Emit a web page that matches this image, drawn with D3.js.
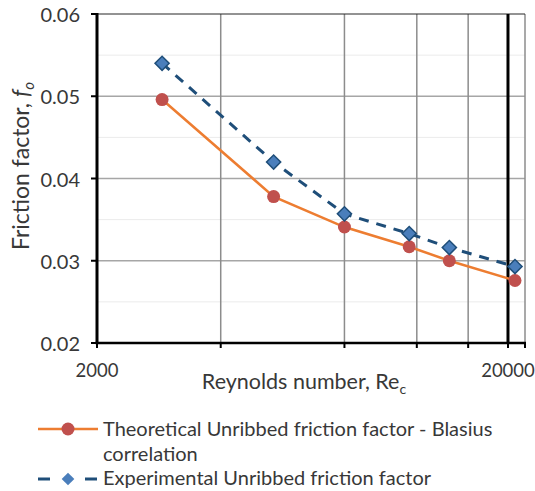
<!DOCTYPE html>
<html>
<head>
<meta charset="utf-8">
<script src="https://cdn.jsdelivr.net/npm/d3@7"></script>
<style>
  html, body { margin: 0; padding: 0; background: #fff; }
  svg { display: block; }
  text { font-family: Lato, "Open Sans", sans-serif; fill: #383838; }
</style>
</head>
<body>
<div id="chart"></div>
<script>
// Reynolds numbers of the test points
const reynolds = [2880, 5380, 8000, 11500, 14400, 20800];
// Blasius correlation (theoretical, unribbed)
const theoretical = [0.0496, 0.0378, 0.0341, 0.0317, 0.0300, 0.0276];
// Measured values (experimental, unribbed)
const experimental = [0.0540, 0.0420, 0.0357, 0.0333, 0.0316, 0.0293];

const yTicks = [0.02, 0.03, 0.04, 0.05, 0.06];
const yMinor = [0.025, 0.035, 0.045, 0.055];
const xGrid = [4000, 8000, 12000, 16000];
const xMarkTicks = [2000, 4000, 8000, 12000, 16000, 20000, 22000];
const xLabels = [2000, 20000];
const legendLabels = [
  ["Theoretical Unribbed friction factor - Blasius", "correlation"],
  ["Experimental Unribbed friction factor"]
];

const W = 535, H = 491;
const m = { left: 97, right: 10, top: 14, bottom: 148 };

const svg = d3.select("#chart").append("svg").attr("width", W).attr("height", H);

const x = d3.scaleLog().domain([2000, 22000]).range([m.left, W - m.right]);
const y = d3.scaleLinear().domain([0.02, 0.06]).range([H - m.bottom, m.top]);

const g = svg.append("g");

// minor horizontal gridlines
g.selectAll(".ymin").data(yMinor).join("line")
  .attr("x1", x(2000)).attr("x2", x(22000))
  .attr("y1", d => y(d)).attr("y2", d => y(d))
  .attr("stroke", "#ebebeb").attr("stroke-width", 1);

// major horizontal gridlines
g.selectAll(".ymaj").data([0.03, 0.04, 0.05]).join("line")
  .attr("x1", x(2000)).attr("x2", x(22000))
  .attr("y1", d => y(d)).attr("y2", d => y(d))
  .attr("stroke", "#a6a6a6").attr("stroke-width", 1.5);

// vertical gridlines
g.selectAll(".xg").data(xGrid).join("line")
  .attr("x1", d => x(d)).attr("x2", d => x(d))
  .attr("y1", y(0.06)).attr("y2", y(0.02))
  .attr("stroke", "#8c8c8c").attr("stroke-width", 1.5);

// right border
g.append("line")
  .attr("x1", x(22000)).attr("x2", x(22000))
  .attr("y1", y(0.06)).attr("y2", y(0.02))
  .attr("stroke", "#8c8c8c").attr("stroke-width", 1.5);

// top border
g.append("line")
  .attr("x1", x(2000)).attr("x2", x(22000))
  .attr("y1", y(0.06)).attr("y2", y(0.06))
  .attr("stroke", "#262626").attr("stroke-width", 1);

// heavy line at Re = 20000
g.append("line")
  .attr("x1", x(20000)).attr("x2", x(20000))
  .attr("y1", y(0.06)).attr("y2", y(0.02))
  .attr("stroke", "#000").attr("stroke-width", 3);

// x axis line + ticks
g.append("line")
  .attr("x1", x(2000) - 1.5).attr("x2", x(22000) + 1)
  .attr("y1", y(0.02)).attr("y2", y(0.02))
  .attr("stroke", "#000").attr("stroke-width", 2.5);
g.selectAll(".xt").data(xMarkTicks).join("line")
  .attr("x1", d => x(d)).attr("x2", d => x(d))
  .attr("y1", y(0.02)).attr("y2", y(0.02) + 5)
  .attr("stroke", "#000").attr("stroke-width", 2);

// y axis line + ticks
g.append("line")
  .attr("x1", x(2000)).attr("x2", x(2000))
  .attr("y1", y(0.06) - 1).attr("y2", y(0.02) + 1)
  .attr("stroke", "#000").attr("stroke-width", 3);
g.selectAll(".yt").data(yTicks).join("line")
  .attr("x1", x(2000) - 6).attr("x2", x(2000))
  .attr("y1", d => y(d)).attr("y2", d => y(d))
  .attr("stroke", "#000").attr("stroke-width", 2);

// tick labels
g.selectAll(".yl").data(yTicks).join("text")
  .attr("x", 80).attr("y", d => y(d))
  .attr("text-anchor", "end").attr("dominant-baseline", "central")
  .style("font-size", "20px")
  .text(d => d3.format(".2f")(d));
g.selectAll(".xl").data(xLabels).join("text")
  .attr("x", d => x(d)).attr("y", 377)
  .attr("text-anchor", "middle")
  .style("font-size", "18.5px")
  .text(d => d);

// axis titles
const xt = svg.append("text")
  .attr("x", 304).attr("y", 389)
  .attr("text-anchor", "middle").style("font-size", "21.5px");
xt.append("tspan").text("Reynolds number, Re");
xt.append("tspan").attr("dy", 5).style("font-size", "14px").text("c");

const yt = svg.append("text")
  .attr("transform", "translate(29,166) rotate(-90)")
  .attr("text-anchor", "middle").style("font-size", "23px");
yt.append("tspan").text("Friction factor, ");
yt.append("tspan").style("font-style", "italic").text("f");
yt.append("tspan").attr("dy", 5).style("font-size", "15px").style("font-style", "italic").text("o");

// series
const theoPts = reynolds.map((r, i) => [r, theoretical[i]]);
const expPts = reynolds.map((r, i) => [r, experimental[i]]);
const line = d3.line().x(d => x(d[0])).y(d => y(d[1]));

const orange = "#ed7d31", red = "#c0504d", navy = "#1f4e79", blue = "#4a7ebb";

svg.append("path").datum(expPts).attr("d", line)
  .attr("fill", "none").attr("stroke", navy).attr("stroke-width", 3)
  .attr("stroke-dasharray", "10,8");
svg.append("path").datum(theoPts).attr("d", line)
  .attr("fill", "none").attr("stroke", orange).attr("stroke-width", 2.5);

svg.selectAll(".c").data(theoPts).join("circle")
  .attr("cx", d => x(d[0])).attr("cy", d => y(d[1])).attr("r", 6.5)
  .attr("fill", red);

svg.selectAll(".d").data(expPts).join("path")
  .attr("d", d3.symbol().type(d3.symbolSquare).size(100))
  .attr("transform", d => `translate(${x(d[0])},${y(d[1])}) rotate(45)`)
  .attr("fill", blue).attr("stroke", navy).attr("stroke-width", 1.5);

// legend
const lg = svg.append("g");
lg.append("line").attr("x1", 38).attr("x2", 98).attr("y1", 429).attr("y2", 429)
  .attr("stroke", orange).attr("stroke-width", 2.5);
lg.append("circle").attr("cx", 68).attr("cy", 429).attr("r", 6.5).attr("fill", red);
lg.append("text").attr("x", 103).attr("y", 436).style("font-size", "20px").text(legendLabels[0][0]);
lg.append("text").attr("x", 103).attr("y", 461).style("font-size", "20px").text(legendLabels[0][1]);

lg.append("line").attr("x1", 38).attr("x2", 50).attr("y1", 479).attr("y2", 479)
  .attr("stroke", navy).attr("stroke-width", 3);
lg.append("line").attr("x1", 85).attr("x2", 97).attr("y1", 479).attr("y2", 479)
  .attr("stroke", navy).attr("stroke-width", 3);
lg.append("path").attr("d", d3.symbol().type(d3.symbolSquare).size(80))
  .attr("transform", "translate(68,479) rotate(45)")
  .attr("fill", blue).attr("stroke", "none");
lg.append("text").attr("x", 103).attr("y", 485).style("font-size", "20px").text(legendLabels[1][0]);
</script>
</body>
</html>
